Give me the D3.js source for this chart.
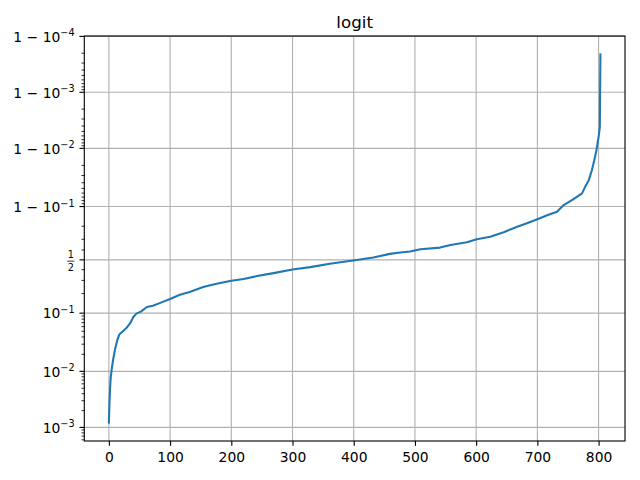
<!DOCTYPE html>
<html><head><meta charset="utf-8">
<script src="https://cdn.jsdelivr.net/npm/d3@7"></script>
<style>body{margin:0;background:#fff} svg{display:block} text{font-family:"DejaVu Sans",sans-serif;fill:#000}</style>
</head><body><svg id="c" width="640" height="480"></svg>
<script>
// ---- data ----
const indices = [0,1,2,3,5,7,10,14,17,23,29,35,40,45,53,62,72,86,100,116,132,154,176,200,220,242,269,300,329,361,399,432,459,476,492,509,541,558,585,601,623,645,667,683,700,716,732,743,759,773,778,784,789,793,797,799,800,802,803];
const values  = [0.00122,0.0028,0.0051,0.0077,0.0116,0.0162,0.0243,0.0361,0.0440,0.0501,0.0572,0.0692,0.0869,0.0982,0.1070,0.1254,0.1315,0.1477,0.1662,0.1920,0.2099,0.2458,0.2718,0.2968,0.3117,0.3387,0.3668,0.4018,0.4256,0.4590,0.4928,0.5236,0.5613,0.5744,0.5844,0.6080,0.6236,0.6493,0.6741,0.7006,0.7224,0.7571,0.7969,0.8186,0.8417,0.8624,0.8790,0.9053,0.9244,0.9393,0.9530,0.9639,0.9757,0.9838,0.9899,0.9928,0.9937,0.9958,0.99979];
const title = "logit";
const xTicks = [0,100,200,300,400,500,600,700,800];
const yTicks = [0.001,0.01,0.1,0.5,0.9,0.99,0.999,0.9999];
const yTickBase = ["10","10","10","1/2","1 \u2212 10","1 \u2212 10","1 \u2212 10","1 \u2212 10"];
const yTickExp  = ["\u22123","\u22122","\u22121","","\u22121","\u22122","\u22123","\u22124"];

// ---- layout ----
const L = 84.3, R = 625, T = 36, B = 441;
const FS = 13.89, major = 4.86, minor = 2.78, pad = 4.86;
const svg = d3.select("#c");

const logit = p => Math.log(p / (1 - p));
const data = indices.map((i, k) => ({x: i, p: values[k]}));

const xmin = d3.min(indices), xmax = d3.max(indices);
const xm = (xmax - xmin) * 0.05;
const x = d3.scaleLinear().domain([xmin - xm, xmax + xm]).range([L, R]);

const lmin = logit(d3.min(values)), lmax = logit(d3.max(values));
const lm = (lmax - lmin) * 0.05;
const yl = d3.scaleLinear().domain([lmin - lm, lmax + lm]).range([B, T]);
const y = p => yl(logit(p));
const inY = p => { const v = logit(p); return v >= lmin - lm - 1e-9 && v <= lmax + lm + 1e-9; };

// minor ticks (logit locator style)
const minors = [];
for (const e of [1e-4, 1e-3, 1e-2]) for (let k = 2; k <= 9; k++) { minors.push(k * e); minors.push(1 - k * e); }
[0.2, 0.3, 0.4, 0.6, 0.7, 0.8].forEach(v => minors.push(v));
const minorVis = minors.filter(inY);
const majorVis = yTicks.map((t, i) => ({t, i})).filter(d => inY(d.t));

// grid
const g = svg.append("g");
g.selectAll("line.gx").data(xTicks).join("line")
  .attr("x1", d => x(d)).attr("x2", d => x(d)).attr("y1", T).attr("y2", B)
  .attr("stroke", "#b0b0b0").attr("stroke-width", 1.11);
g.selectAll("line.gy").data(majorVis).join("line")
  .attr("x1", L).attr("x2", R).attr("y1", d => y(d.t)).attr("y2", d => y(d.t))
  .attr("stroke", "#b0b0b0").attr("stroke-width", 1.11);

// line
svg.append("path").datum(data)
  .attr("d", d3.line().x(d => x(d.x)).y(d => y(d.p)))
  .attr("fill", "none").attr("stroke", "#1f77b4").attr("stroke-width", 2.08)
  .attr("stroke-linejoin", "round").attr("stroke-linecap", "square");

// spines
svg.append("rect").attr("x", L).attr("y", T).attr("width", R - L).attr("height", B - T)
  .attr("fill", "none").attr("stroke", "#000").attr("stroke-width", 1.11);

// x axis
const xa = svg.append("g").attr("transform", `translate(0,${B})`)
  .call(d3.axisBottom(x).tickValues(xTicks).tickSize(major).tickPadding(6.2).tickFormat(d3.format("d")));
xa.select(".domain").remove();
xa.selectAll("line").attr("stroke", "#000").attr("stroke-width", 1.11);
xa.selectAll("text").attr("font-size", FS).attr("font-family", "DejaVu Sans").attr("fill", "#000");

// y axis ticks
const ya = svg.append("g");
ya.selectAll("line.mn").data(minorVis).join("line")
  .attr("x1", L - minor).attr("x2", L).attr("y1", d => y(d)).attr("y2", d => y(d))
  .attr("stroke", "#000").attr("stroke-width", 0.83);
ya.selectAll("line.mj").data(majorVis).join("line")
  .attr("x1", L - major).attr("x2", L).attr("y1", d => y(d.t)).attr("y2", d => y(d.t))
  .attr("stroke", "#000").attr("stroke-width", 1.11);

const lx = L - major - pad;
majorVis.forEach(d => {
  const ty = y(d.t);
  const base = yTickBase[d.i], ex = yTickExp[d.i];
  if (base.includes("/")) {
    const [num, den] = base.split("/");
    const cx = lx - 3.8;
    ya.append("text").attr("x", cx).attr("y", ty - 1.5).attr("text-anchor", "middle").attr("font-size", 9.7).text(num);
    ya.append("line").attr("x1", cx - 3.6).attr("x2", cx + 3.6).attr("y1", ty + 1.3).attr("y2", ty + 1.3)
      .attr("stroke", "#000").attr("stroke-width", 0.8);
    ya.append("text").attr("x", cx).attr("y", ty + 11.5).attr("text-anchor", "middle").attr("font-size", 9.7).text(den);
  } else {
    const t = ya.append("text").attr("x", lx).attr("y", ty + 5.3).attr("text-anchor", "end").attr("font-size", FS);
    t.append("tspan").text(base);
    t.append("tspan").attr("dy", -5.3).attr("font-size", 9.7).text(ex);
  }
});

// title
svg.append("text").attr("x", (L + R) / 2).attr("y", T - 8.3).attr("text-anchor", "middle")
  .attr("font-size", 16.67).text(title);
</script></body></html>
